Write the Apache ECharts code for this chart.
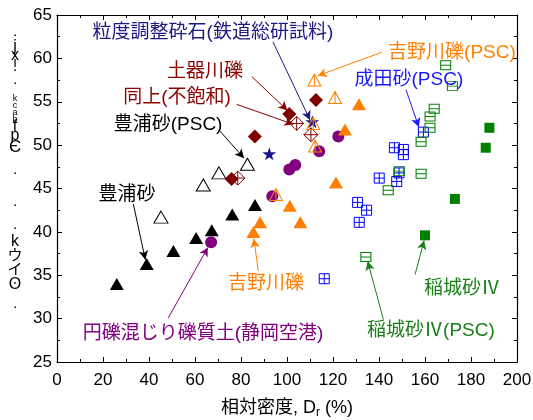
<!DOCTYPE html>
<html><head><meta charset="utf-8">
<script src="https://cdn.jsdelivr.net/npm/echarts@6/dist/echarts.min.js"></script>
<style>html,body{margin:0;padding:0;background:#fff}#c{width:533px;height:420px}</style>
</head><body><div id="c"></div>
<script>
// ---- data (x = Dr %, y = angle) ----
var toyouraSand = [[26,34],[39,36.3],[50.6,37.8],[60.5,39.3],[67.3,40.2],[76.2,42],[86.1,43.1]];
var toyouraPSC = [[45.2,41.7],[63.6,45.4],[70.4,46.8],[82.8,47.8]];
var dokigawa = [[75.9,46.1],[86,51],[101,53.6],[112.6,55.2]];
var dokigawaUnsat = [[78.6,46.2],[104.2,52.5],[110.4,51.2]];
var crushedStone = [[92.3,49],[111,52.7]];
var shizuokaGravel = [[67,38.8],[93.6,44.1],[101,47.2],[103.6,47.7],[114,49.3],[122.3,51]];
var yoshinoGravel = [[85.4,40],[88.3,41.1],[101.2,43],[105.8,41.1],[121.3,45.7],[125.2,51.8],[131.3,54.7]];
var yoshinoPSC = [[95.2,44.3],[111.9,57.5],[120.9,55.5],[111.4,52.5],[112.2,49.9]];
var naritaPSC = [[159.3,51.5],[146.7,49.7],[150.6,49.5],[150.6,48.9],[148.7,46.8],[147.7,45.8],[140.1,46.2],[130.7,43.4],[134.6,42.5],[131.4,41.1],[116.2,34.6]];
var inagiPSC = [[169,59.2],[171.9,56.8],[164,54.2],[162.2,53.3],[162.2,52],[158.3,50.4],[148.8,47],[158.3,46.7],[144,44.8],[134.3,37.1]];
var inagi = [[188,52],[186.4,49.7],[173,43.8],[160,39.6]];
var xTicks = [0,20,40,60,80,100,120,140,160,180,200];
var yTicks = [25,30,35,40,45,50,55,60,65];

// annotations: text position and arrow (data coordinates)
var notes = [
  {t:'粒度調整砕石(鉄道総研試料)', c:'#1a1a80', p:[67.8,62.9], a:[93.9,61.9], b:[110,52.9]},
  {t:'土器川礫', c:'#8b0000', p:[64.3,58.5], a:[84.7,57.9], b:[100.2,54.0]},
  {t:'同上(不飽和)', c:'#8b0000', p:[52.2,55.5], a:[78.1,54.7], b:[102.8,52.4]},
  {t:'豊浦砂(PSC)', c:'#000000', p:[48.3,52.4], a:[70.9,51.6], b:[81.3,48.5]},
  {t:'豊浦砂', c:'#000000', p:[30.4,44.3], a:[33.2,43.2], b:[38.4,36.8]},
  {t:'円礫混じり礫質土(静岡空港)', c:'#800080', p:[63.5,28.2], a:[48.4,30.1], b:[65.6,38.2]},
  {t:'吉野川礫', c:'#ff8000', p:[90.9,34.0], a:[87.5,35.5], b:[85.6,39.2]},
  {t:'吉野川礫(PSC)', c:'#ff8000', p:[171.7,60.6], a:[141.2,60.7], b:[113.4,58.0]},
  {t:'成田砂(PSC)', c:'#1a1aff', p:[153,57.5], a:[151.7,56.4], b:[157.3,52.1]},
  {t:'稲城砂Ⅳ', c:'#1a801a', p:[176.1,33.4], a:[155.7,35.1], b:[159.6,39.0]},
  {t:'稲城砂Ⅳ(PSC)', c:'#1a801a', p:[162.6,28.6], a:[141.9,29.9], b:[135.1,36.6]}
];

var FONT = '"Liberation Sans", Arial, "Noto Sans CJK JP", sans-serif';
var triCross = 'path://M5,0 L10,10 L0,10 Z M5,0 L5,10';
var diaCross = 'path://M5,0 L10,5 L5,10 L0,5 Z M5,0 L5,10 M0,5 L10,5';
var sqPlus = 'path://M0,0 L10,0 L10,10 L0,10 Z M5,0 L5,10 M0,5 L10,5';
var sqLine = 'path://M0,0 L10,0 L10,10 L0,10 Z M0,5 L10,5';
var star = 'path://M50,0 L61,35 L98,35 L68,57 L79,91 L50,70 L21,91 L32,57 L2,35 L39,35 Z';

function sc(data, symbol, size, fill, stroke, bw) {
  return {type:'scatter', data:data, symbol:symbol, symbolSize:size, silent:true,
    itemStyle:{color:fill, borderColor:stroke, borderWidth:bw||0, opacity:1}};
}

var chart = echarts.init(document.getElementById('c'), null, {renderer:'canvas'});
var axisCommon = {
  axisLine:{show:true, onZero:false, lineStyle:{color:'#000', width:1.2}},
  axisTick:{show:true, inside:true, length:5, lineStyle:{color:'#000', width:1}},
  minorTick:{show:true, splitNumber:2, length:3, lineStyle:{color:'#000', width:1}},
  splitLine:{show:false}
};
var option = {
  animation:false,
  backgroundColor:'#fff',
  textStyle:{fontFamily:FONT},
  grid:{left:57, right:16, top:15, bottom:58, containLabel:false, outerBoundsMode:'none'},
  xAxis:[
    Object.assign({type:'value', min:xTicks[0], max:xTicks[xTicks.length-1], interval:20, position:'bottom',
      axisLabel:{color:'#000', fontSize:17, margin:10, fontFamily:FONT},
      name:'{a|相対密度, D}{s|r}{a| (%)}', nameLocation:'middle', nameGap:35,
      nameTextStyle:{rich:{a:{fontSize:18, color:'#000', fontFamily:FONT}, s:{fontSize:12, color:'#000', fontFamily:FONT, padding:[10,0,0,0]}}}
    }, axisCommon),
    Object.assign({type:'value', min:0, max:200, interval:20, position:'top', axisLabel:{show:false}}, axisCommon)
  ],
  yAxis:[
    Object.assign({type:'value', min:yTicks[0], max:yTicks[yTicks.length-1], interval:5, position:'left',
      axisLabel:{color:'#000', fontSize:17, margin:5, fontFamily:FONT}}, axisCommon),
    Object.assign({type:'value', min:25, max:65, interval:5, position:'right', axisLabel:{show:false}}, axisCommon)
  ],
  series:[
    sc(toyouraSand, 'triangle', [14,12], '#000', '#000', 0),
    sc(toyouraPSC, 'triangle', [14,12], '#fff', '#000', 1),
    sc(dokigawa, 'diamond', [14,14], '#800000', '#800000', 0),
    sc(dokigawaUnsat, diaCross, [14,14], 'rgba(255,255,255,0)', '#800000', 1),
    sc(crushedStone, star, [14,13], '#14148c', '#14148c', 0),
    sc(shizuokaGravel, 'circle', 12, '#800080', '#800080', 0),
    sc(yoshinoGravel, 'triangle', [14,12], '#ff8000', '#ff8000', 0),
    sc(yoshinoPSC, triCross, [13,12], 'rgba(255,255,255,0)', '#ff8000', 1),
    sc(naritaPSC, sqPlus, [10,10], 'rgba(255,255,255,0)', '#0000ff', 1),
    sc(inagiPSC, sqLine, [10,9], 'rgba(255,255,255,0)', '#008000', 1),
    sc(inagi, 'rect', [10,10], '#008000', '#008000', 0),
    {type:'scatter', data:[], silent:true,
     markLine:{silent:true, symbol:['none','arrow'], symbolSize:[7,9], animation:false, label:{show:false},
       lineStyle:{type:'solid', width:1},
       data: notes.map(function(n){ return [{coord:n.a, lineStyle:{color:n.c, width:1, type:'solid'}}, {coord:n.b}]; })}}
  ]
};
chart.setOption(option);

// annotation texts and the garbled vertical y-axis title
var g = [];
notes.forEach(function(n){
  var px = chart.convertToPixel({xAxisIndex:0, yAxisIndex:0}, n.p);
  g.push({type:'text', x:px[0], y:px[1], z:100, style:{text:n.t, fill:n.c, font:'19px ' + FONT, align:'center', verticalAlign:'middle'}});
});
var yTitle = [
  [35,'▪',6],[47,'j',16],[56,'x',16],[63,'i',14],[70,'▪',6],[83,'▪',6],
  [99,'k',9],[106,'c',9],[113,'a',9],[120,'b',9],[127,'f',16],[136,'p',16],[147,'Є',17],
  [173,'▪',6],[205,'▪',6],[228,'▪',6],[242,'k',16],[256,'ウ',15],[270,'イ',15],[285,'ʘ',16],[307,'▪',6]
];
yTitle.forEach(function(c){
  g.push({type:'text', x:15, y:c[0], style:{text:c[1], fill:'#000', font:c[2] + 'px ' + FONT, align:'center', verticalAlign:'middle'}});
});
chart.setOption({graphic:g});
</script>
</body></html>
